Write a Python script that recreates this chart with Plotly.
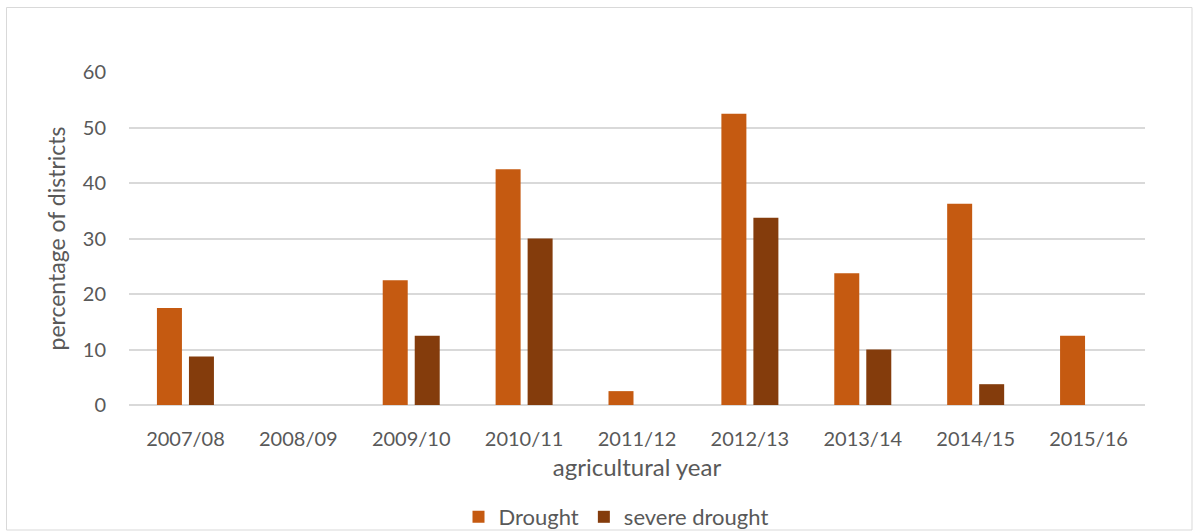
import plotly.graph_objects as go

categories = ["2007/08", "2008/09", "2009/10", "2010/11", "2011/12",
              "2012/13", "2013/14", "2014/15", "2015/16"]
drought = [17.5, 0, 22.5, 42.5, 2.5, 52.5, 23.75, 36.25, 12.5]
severe_drought = [8.75, 0, 12.5, 30, 0, 33.75, 10, 3.75, 0]

W, H = 1193, 531
L, R, T, B = 129, 48, 72, 126
pw, ph = W - L - R, H - T - B

def px_x(x):
    return (x - L) / pw

def px_y(y):
    return (H - B - y) / ph

font = "Lato, Calibri, Carlito, sans-serif"
grey = "#595959"

fig = go.Figure()
fig.add_trace(go.Bar(x=categories, y=drought, name="Drought",
                     marker=dict(color="#C55A11", line=dict(width=0))))
fig.add_trace(go.Bar(x=categories, y=severe_drought, name="severe drought",
                     marker=dict(color="#843C0C", line=dict(width=0))))

fig.update_layout(
    width=W, height=H,
    margin=dict(l=L, r=R, t=T, b=B, autoexpand=False),
    paper_bgcolor="white", plot_bgcolor="white",
    barmode="group", bargap=0.433, bargroupgap=0.219,
    font=dict(family=font, color=grey, size=20),
    showlegend=True,
    legend=dict(orientation="h", x=616 / W, xref="container", xanchor="center",
                y=(H - 517) / H, yref="container", yanchor="middle",
                bgcolor="rgba(0,0,0,0)",
                font=dict(size=22, color=grey), itemwidth=30,
                traceorder="normal"),
    xaxis=dict(showgrid=False, showline=False, ticks="", automargin=False,
               tickfont=dict(size=20, color=grey), ticklabelstandoff=20,
               title=dict(text="agricultural year", font=dict(size=24, color=grey),
                          standoff=10)),
    yaxis=dict(range=[0, 60], dtick=10, showgrid=True, gridcolor="#D9D9D9",
               gridwidth=1.5, zeroline=True, zerolinecolor="#D9D9D9", zerolinewidth=1.5,
               showline=False, ticks="", automargin=False,
               tickfont=dict(size=20, color=grey), ticklabelstandoff=22,
               title=dict(text="percentage of districts", font=dict(size=23, color=grey),
                          standoff=10)),
    shapes=[dict(type="rect", xref="paper", yref="paper",
                 x0=px_x(6.5), x1=px_x(1192), y0=px_y(530), y1=px_y(7.5),
                 line=dict(color="#D9D9D9", width=1), fillcolor="rgba(0,0,0,0)",
                 layer="below")],
)

fig.write_html("out.html")
